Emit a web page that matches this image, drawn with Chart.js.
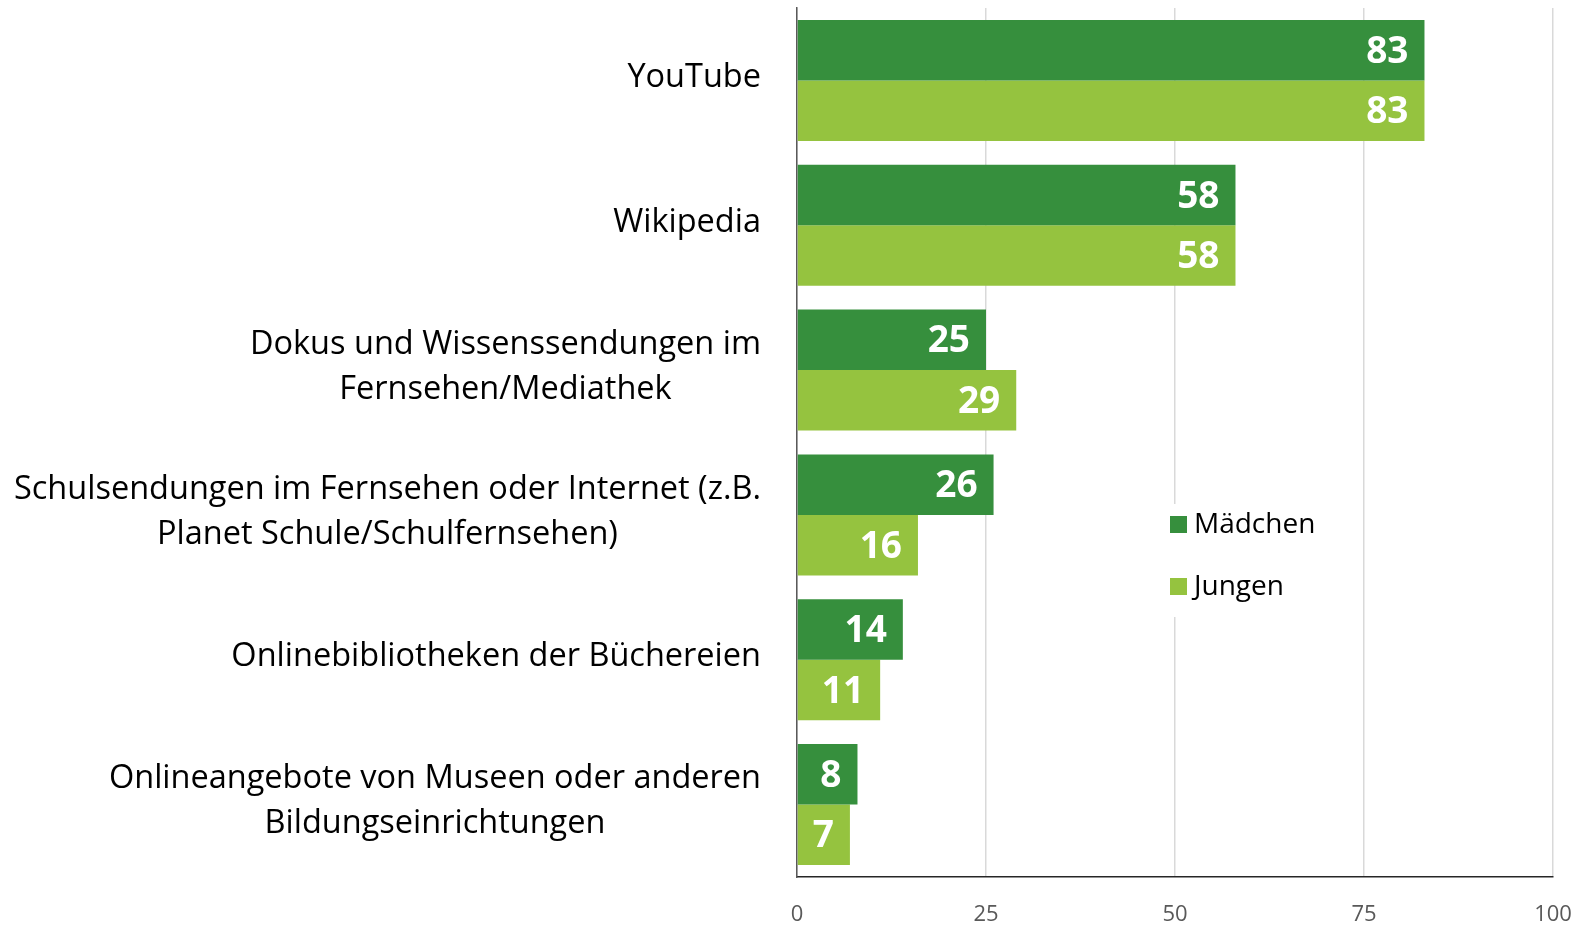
<!DOCTYPE html>
<html>
<head>
<meta charset="utf-8">
<script src="https://cdn.jsdelivr.net/npm/chart.js@4/dist/chart.umd.min.js"></script>
<style>
  html, body { margin: 0; padding: 0; background: #fff; }
  #wrap { position: relative; width: 1581px; height: 925px; }
</style>
</head>
<body>
<div id="wrap"><canvas id="chart"></canvas></div>
<script>
// ── Data ──────────────────────────────────────────────────────────────────
const categories = [
  ['YouTube'],
  ['Wikipedia'],
  ['Dokus und Wissenssendungen im', 'Fernsehen/Mediathek'],
  ['Schulsendungen im Fernsehen oder Internet (z.B.', 'Planet Schule/Schulfernsehen)'],
  ['Onlinebibliotheken der Büchereien'],
  ['Onlineangebote von Museen oder anderen', 'Bildungseinrichtungen']
];
const seriesNames = ['Mädchen', 'Jungen'];
const maedchen = [83, 58, 25, 26, 14, 8];
const jungen   = [83, 58, 29, 16, 11, 7];
const xTicks   = [0, 25, 50, 75, 100];

const DARK  = '#368F3D';
const LIGHT = '#95C33F';
const FONT  = "'Open Sans', 'Noto Sans', sans-serif";

// ── Plugins ───────────────────────────────────────────────────────────────
// category labels: block right-aligned to the axis, lines centred in the block
const catLabels = {
  id: 'catLabels',
  afterDraw(chart) {
    const { ctx, scales: { y } } = chart;
    ctx.save();
    ctx.font = '32.5px ' + FONT;
    ctx.fillStyle = '#000';
    ctx.textAlign = 'center';
    ctx.textBaseline = 'middle';
    const right = 761, lh = 45;
    categories.forEach((lines, i) => {
      const w = Math.max(...lines.map(l => ctx.measureText(l).width));
      const cx = right - w / 2;
      const cy = y.getPixelForTick(i) - 3;
      lines.forEach((l, k) => {
        ctx.fillText(l, cx, cy + (k - (lines.length - 1) / 2) * lh);
      });
    });
    ctx.restore();
  }
};

// value labels inside the bar ends
const valueLabels = {
  id: 'valueLabels',
  afterDatasetsDraw(chart) {
    const { ctx } = chart;
    ctx.save();
    ctx.font = 'bold 37px ' + FONT;
    ctx.fillStyle = '#fff';
    ctx.textAlign = 'right';
    ctx.textBaseline = 'middle';
    chart.data.datasets.forEach((ds, di) => {
      chart.getDatasetMeta(di).data.forEach((bar, i) => {
        ctx.fillText(ds.data[i], bar.x - 16, bar.y + 2);
      });
    });
    ctx.restore();
  }
};

// legend box sitting inside the plot
const boxLegend = {
  id: 'boxLegend',
  afterDraw(chart) {
    const { ctx } = chart;
    ctx.save();
    ctx.fillStyle = '#fff';
    ctx.fillRect(1160, 504, 172, 113);
    ctx.font = '28px ' + FONT;
    ctx.textBaseline = 'middle';
    ctx.textAlign = 'left';
    chart.data.datasets.forEach((ds, i) => {
      const yc = 525 + i * 62;
      ctx.fillStyle = ds.backgroundColor;
      ctx.fillRect(1170, yc - 9, 17, 17);
      ctx.fillStyle = '#000';
      ctx.fillText(ds.label, 1194, yc);
    });
    ctx.restore();
  }
};

// ── Chart ─────────────────────────────────────────────────────────────────
new Chart(document.getElementById('chart').getContext('2d'), {
  type: 'bar',
  data: {
    labels: categories.map(c => c.join(' ')),
    datasets: [
      { label: seriesNames[0], data: maedchen, backgroundColor: DARK,
        categoryPercentage: 0.836, barPercentage: 1.0 },
      { label: seriesNames[1], data: jungen, backgroundColor: LIGHT,
        categoryPercentage: 0.836, barPercentage: 1.0 }
    ]
  },
  options: {
    indexAxis: 'y',
    responsive: true,
    maintainAspectRatio: false,
    animation: false,
    layout: { padding: { top: 8, right: 28, left: 0, bottom: 0 } },
    plugins: { legend: { display: false }, tooltip: { enabled: false } },
    scales: {
      x: {
        min: 0, max: 100,
        afterBuildTicks: s => { s.ticks = xTicks.map(v => ({ value: v })); },
        afterFit: s => { s.height = 48; s.paddingLeft = 0; s.paddingRight = 0; },
        grid:   { color: '#d9d9d9', lineWidth: 1.5, drawTicks: false },
        border: { display: true, color: '#262626', width: 1.5 },
        ticks:  { color: '#595959', padding: 25, font: { size: 22, family: FONT } }
      },
      y: {
        afterFit: s => { s.width = 797; s.paddingTop = 0; s.paddingBottom = 0; },
        grid:   { display: false },
        border: { display: true, color: '#595959', width: 1.5 },
        ticks:  { display: false }
      }
    }
  },
  plugins: [catLabels, valueLabels, boxLegend]
});
</script>
</body>
</html>
